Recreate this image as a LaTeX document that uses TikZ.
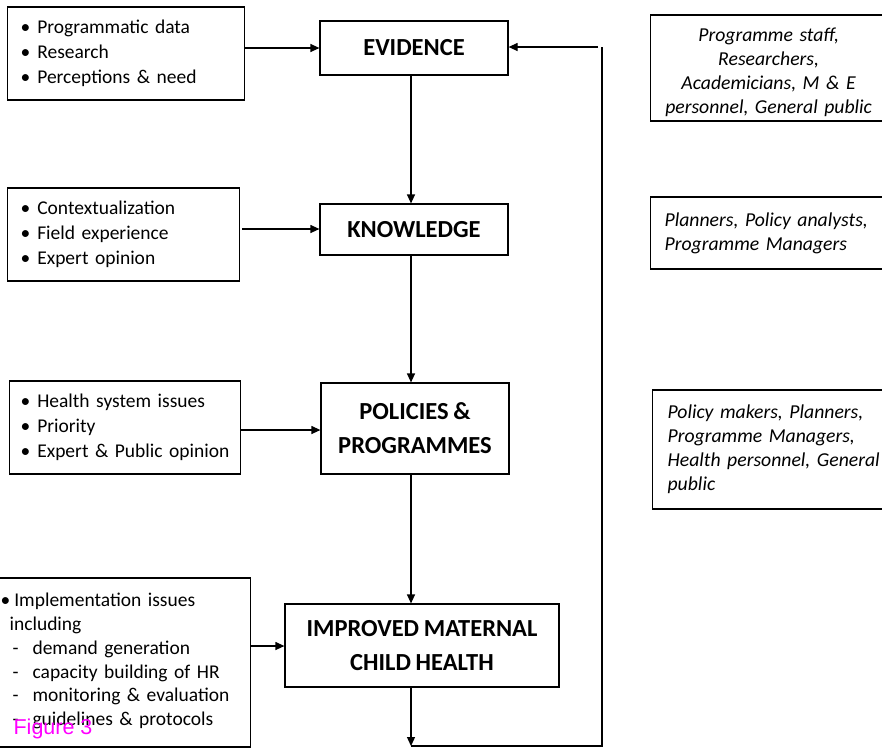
\documentclass[tikz,border=0pt]{standalone}
\usepackage{fontspec}
\setmainfont{Carlito}[WordSpace=0.85]
\newfontfamily\figfont{Liberation Sans}
\usetikzlibrary{arrows.meta}
\definecolor{figmagenta}{RGB}{255,0,255}

\begin{document}
\begin{tikzpicture} [x=1pt, y=-1pt, line width=1.2pt, >={Triangle[length=9pt,width=8pt]},
  headbox/.style={draw, font=\fontsize{24.5}{34}\selectfont\bfseries, align=center, inner sep=0pt},
  listbox/.style={draw, font=\fontsize{19.5}{24.8}\selectfont, align=left, anchor=west, inner ysep=0pt},
  rolebox/.style={draw, font=\fontsize{19.7}{24}\selectfont\itshape, anchor=west, inner ysep=0pt}
]
  \useasboundingbox (0,0) rectangle (882,748);

  % main boxes
  \node[headbox, minimum width=188pt, minimum height=54pt] (evid) at (414,48) {EVIDENCE};
  \node[headbox, minimum width=188pt, minimum height=51pt] (know) at (414,229.5) {KNOWLEDGE};
  \node[headbox, minimum width=188pt, minimum height=91pt] (poli) at (415,428.5) {POLICIES \&\\PROGRAMMES};
  \node[headbox, minimum width=274pt, minimum height=83pt] (imc) at (422,645.5) {IMPROVED MATERNAL\\CHILD HEALTH};

  % inputs on the left
  \node[listbox, minimum height=93pt, text width=211pt, inner xsep=13pt] (inEvid) at (7,53.5)
    {\textbullet\hspace{7pt}Programmatic data\\\textbullet\hspace{7pt}Research\\\textbullet\hspace{7pt}Perceptions \& need};
  \node[listbox, minimum height=93pt, text width=206pt, inner xsep=13pt] (inKnow) at (7,234.5)
    {\textbullet\hspace{7pt}Contextualization\\\textbullet\hspace{7pt}Field experience\\\textbullet\hspace{7pt}Expert opinion};
  \node[listbox, minimum height=93pt, text width=209pt, inner xsep=11pt] (inPoli) at (9,427.5)
    {\textbullet\hspace{7pt}Health system issues\\\textbullet\hspace{7pt}Priority\\\textbullet\hspace{7pt}Expert \& Public opinion};
  \node[listbox, font=\fontsize{19.5}{23.8}\selectfont, minimum height=169pt, text width=240pt, inner xsep=10pt] (inImc) at (-10,662.5)
    {\textbullet\hspace{4pt}Implementation issues\\\hspace{9pt}including\\
     \hspace{12pt}-\hspace{14pt}demand generation\\\hspace{12pt}-\hspace{14pt}capacity building of HR\\
     \hspace{12pt}-\hspace{14pt}monitoring \& evaluation\\\hspace{12pt}-\hspace{14pt}guidelines \& protocols\rule[-6pt]{0pt}{0pt}};

  % actors on the right
  \node[rolebox, minimum height=106pt, text width=236pt, inner xsep=0pt, align=center] (whoEvid) at (650,68)
    {\rule{0pt}{22pt}Programme staff,\\Researchers,\\Academicians, M \& E\\personnel, General public};
  \node[rolebox, minimum height=72pt, text width=222pt, inner xsep=14pt, align=left] (whoKnow) at (650,233)
    {Planners, Policy analysts,\\Programme Managers\\[2pt]};
  \node[rolebox, minimum height=119pt, text width=219pt, inner xsep=15pt, align=left] (whoPoli) at (652,449.5)
    {Policy makers, Planners,\\Programme Managers,\\Health personnel, General\\public\\[4pt]};

  \node[font=\fontsize{21.5}{24}\selectfont\figfont, text=figmagenta, anchor=south west, inner sep=0pt] (fig) at (13,740) {Figure 3};

  % spine and feedback loop
  \coordinate (spine) at (411,0);
  \coordinate (fbA) at (411,746);
  \coordinate (fbB) at (602,746);
  \coordinate (fbC) at (602,47);
  \coordinate (fbD) at (598,47);

  \draw[->] (evid.south -| spine) -- (know.north -| spine);
  \draw[->] (know.south -| spine) -- (poli.north -| spine);
  \draw[->] (poli.south -| spine) -- (imc.north -| spine);
  \draw[->] (imc.south -| spine) -- (fbA);
  \draw (fbA) -- (fbB) -- (fbC);
  \draw[->] (fbD) -- (evid.east |- fbD);

  \draw[->] (inEvid.east |- evid) -- (evid.west);
  \draw[->] (242,229) -- (know.west |- 242,229);
  \draw[->] (inPoli.east |- 0,430) -- (poli.west |- 0,430);
  \draw[->] (inImc.east |- 0,646) -- (imc.west |- 0,646);
\end{tikzpicture}
\end{document}
